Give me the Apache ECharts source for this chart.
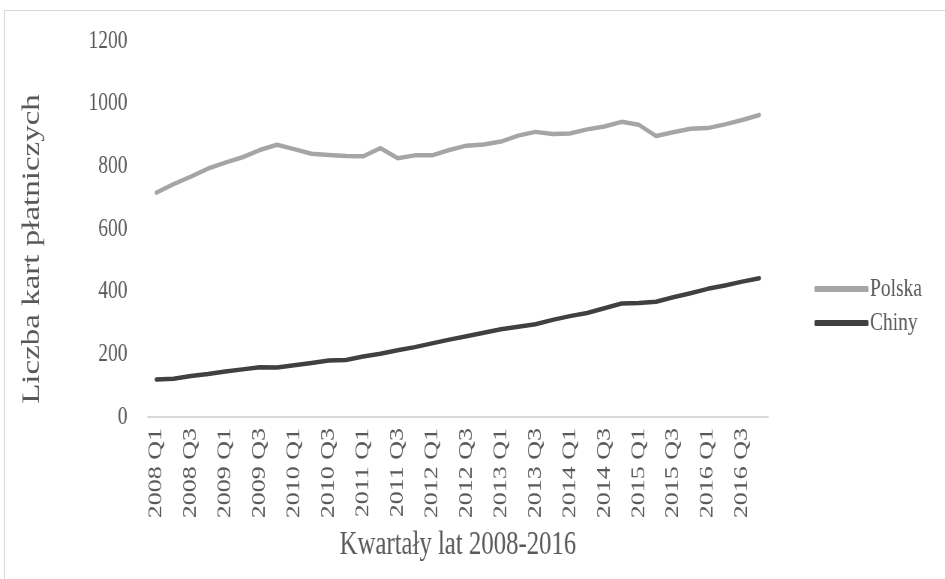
<!DOCTYPE html>
<html>
<head>
<meta charset="utf-8">
<script src="https://cdn.jsdelivr.net/npm/echarts@6/dist/echarts.min.js"></script>
<style>
	html, body { margin: 0; padding: 0; background: #fff; overflow: hidden; }
	#frame {
		position: absolute; left: 4px; top: 10px;
		width: 960px; height: 600px;
		border: 1px solid #d9d9d9;
	}
	/* the source picture has tall, narrow glyphs: draw wider, then squeeze */
	#main {
		position: absolute; left: 0; top: 0;
		width: 1260px; height: 579px;
		transform: scaleX(0.75);
		transform-origin: 0 0;
	}
</style>
</head>
<body>
<div id="frame"></div>
<div id="main"></div>
<script>
	// kwartaly 2008 Q1 .. 2016 Q4
	var years = ['2008', '2009', '2010', '2011', '2012', '2013', '2014', '2015', '2016'];
	var quarters = [];
	years.forEach(function(y) {
		['Q1', 'Q2', 'Q3', 'Q4'].forEach(function(q) {
			quarters.push(y + ' ' + q);
		});
	});

	var polska = [716, 743, 767, 793, 812, 829, 852, 869, 855, 840, 836, 833,
		832, 858, 826, 835, 835, 852, 866, 870, 879, 898, 910, 903,
		905, 918, 927, 942, 933, 897, 909, 920, 922, 934, 948, 964];
	var chiny = [120, 122, 131, 137, 145, 152, 159, 158, 165, 172, 180, 182,
		193, 202, 213, 223, 235, 247, 258, 269, 280, 288, 296, 310,
		322, 332, 347, 362, 364, 368, 382, 395, 409, 420, 432, 443];

	var font = '"Liberation Serif", "Times New Roman", serif';
	var txt = '#595959';

	var myChart = echarts.init(document.getElementById('main'));

	var option = {
		backgroundColor: 'transparent',
		textStyle: { fontFamily: font },
		legend: {
			orient: 'vertical',
			left: 1081,
			top: 271,
			itemWidth: 72,
			itemHeight: 6,
			itemGap: 8,
			icon: 'roundRect',
			textStyle: { color: txt, fontSize: 26, fontFamily: font, padding: [0, 0, 0, -3] },
			data: ['Polska', 'Chiny']
		},
		grid: {
			left: 197,
			right: 236,
			top: 41,
			bottom: 162,
			containLabel: false
		},
		xAxis: {
			type: 'category',
			data: quarters,
			boundaryGap: true,
			name: 'Kwartały lat 2008-2016',
			nameLocation: 'middle',
			nameGap: 112,
			nameTextStyle: { color: txt, fontSize: 33, fontFamily: font },
			axisLine: { lineStyle: { color: '#d9d9d9', width: 2 } },
			axisTick: { show: false },
			axisLabel: {
				interval: 1,
				rotate: 90,
				color: txt,
				fontSize: 26,
				fontFamily: font,
				margin: 11
			}
		},
		yAxis: {
			type: 'value',
			min: 0,
			max: 1200,
			interval: 200,
			name: 'Liczba kart płatniczych',
			nameLocation: 'middle',
			nameGap: 137,
			nameTextStyle: { color: txt, fontSize: 33, fontFamily: font, padding: [0, 40, 0, 0] },
			axisLine: { show: false },
			axisTick: { show: false },
			splitLine: { show: false },
			axisLabel: {
				color: txt,
				fontSize: 26,
				fontFamily: font,
				margin: 27,
				formatter: function(v) { return String(v); }
			}
		},
		series: [{
			name: 'Polska',
			type: 'line',
			data: polska,
			symbol: 'none',
			color: '#a5a5a5',
			lineStyle: { width: 4.5, color: '#a5a5a5', cap: 'round', join: 'round' }
		}, {
			name: 'Chiny',
			type: 'line',
			data: chiny,
			symbol: 'none',
			color: '#404040',
			lineStyle: { width: 4.5, color: '#404040', cap: 'round', join: 'round' }
		}],
		animation: false
	};
	myChart.setOption(option);
</script>
</body>
</html>
